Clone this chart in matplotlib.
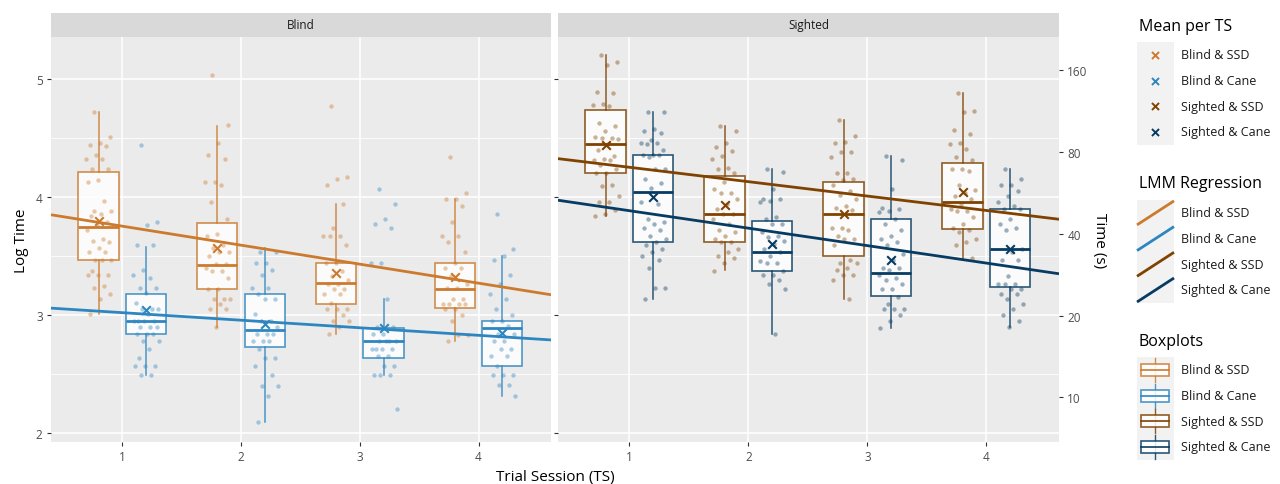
import numpy as np
import matplotlib.pyplot as plt
from matplotlib.patches import Rectangle

plt.rcParams['font.family'] = ['Open Sans', 'DejaVu Sans']

# ---- data (log time per trial session) ----
ts = [1, 2, 3, 4]
groups = ["Blind & SSD", "Blind & Cane", "Sighted & SSD", "Sighted & Cane"]
colors = ["#CC7A2E", "#2E86C1", "#7F4200", "#073B61"]

blind_ssd_q1 = [3.47, 3.22, 3.09, 3.06]
blind_ssd_med = [3.75, 3.42, 3.27, 3.22]
blind_ssd_q3 = [4.21, 3.78, 3.44, 3.44]
blind_ssd_lo = [3.01, 2.90, 2.84, 2.78]
blind_ssd_hi = [4.72, 4.60, 3.94, 3.98]
blind_ssd_mean = [3.80, 3.57, 3.36, 3.32]

blind_cane_q1 = [2.84, 2.73, 2.64, 2.57]
blind_cane_med = [2.95, 2.87, 2.78, 2.89]
blind_cane_q3 = [3.18, 3.18, 2.89, 2.95]
blind_cane_lo = [2.49, 2.09, 2.49, 2.31]
blind_cane_hi = [3.58, 3.57, 3.14, 3.50]
blind_cane_mean = [3.04, 2.92, 2.89, 2.85]

sighted_ssd_q1 = [4.20, 3.62, 3.50, 3.73]
sighted_ssd_med = [4.45, 3.86, 3.86, 3.96]
sighted_ssd_q3 = [4.74, 4.18, 4.13, 4.29]
sighted_ssd_lo = [3.84, 3.38, 3.14, 3.47]
sighted_ssd_hi = [5.20, 4.60, 4.65, 4.88]
sighted_ssd_mean = [4.44, 3.93, 3.86, 4.04]

sighted_cane_q1 = [3.62, 3.37, 3.16, 3.24]
sighted_cane_med = [4.04, 3.53, 3.36, 3.56]
sighted_cane_q3 = [4.36, 3.80, 3.81, 3.90]
sighted_cane_lo = [3.14, 2.84, 2.89, 2.90]
sighted_cane_hi = [4.72, 4.24, 4.35, 4.24]
sighted_cane_mean = [4.00, 3.60, 3.47, 3.56]

# LMM regression (intercept, slope) on log time
blind_ssd_fit = (3.914, -0.161)
blind_cane_fit = (3.084, -0.064)
sighted_ssd_fit = (4.374, -0.122)
sighted_cane_fit = (4.032, -0.148)

blind_ssd_pts = [
    [4.72, 4.51, 4.46, 4.44, 4.43, 4.36, 4.32, 4.32, 4.24, 4.24, 4.14, 4.13, 3.97, 3.88, 3.88, 3.86, 3.84, 3.79, 3.76,
     3.72, 3.64, 3.63, 3.62, 3.57, 3.53, 3.53, 3.47, 3.47, 3.47, 3.37, 3.34, 3.34, 3.34, 3.25, 3.23, 3.18, 3.14, 3.01],
    [5.03, 4.61, 4.46, 4.36, 4.32, 4.13, 4.13, 4.10, 3.96, 3.81, 3.69, 3.67, 3.59, 3.57, 3.53, 3.53, 3.50, 3.43, 3.43,
     3.40, 3.37, 3.37, 3.31, 3.22, 3.22, 3.14, 3.14, 3.14, 3.09, 3.05, 3.05, 2.90],
    [4.77, 4.17, 4.15, 4.10, 3.94, 3.74, 3.67, 3.67, 3.67, 3.59, 3.44, 3.44, 3.37, 3.33, 3.30, 3.26, 3.26, 3.22, 3.22,
     3.18, 3.18, 3.10, 3.05, 3.05, 3.05, 3.00, 2.95, 2.95, 2.90, 2.84],
    [4.34, 4.03, 3.98, 3.98, 3.92, 3.79, 3.67, 3.67, 3.62, 3.53, 3.44, 3.40, 3.40, 3.33, 3.26, 3.23, 3.23, 3.14, 3.14,
     3.09, 3.09, 3.09, 3.09, 3.05, 3.05, 3.00, 2.95, 2.83, 2.83, 2.78],
]
blind_cane_pts = [
    [4.44, 3.79, 3.76, 3.59, 3.59, 3.38, 3.34, 3.31, 3.23, 3.23, 3.19, 3.10, 3.05, 3.05, 3.05, 3.01, 2.95, 2.95, 2.95,
     2.95, 2.90, 2.90, 2.90, 2.84, 2.84, 2.84, 2.78, 2.78, 2.71, 2.64, 2.57, 2.57, 2.57, 2.49, 2.49],
    [3.53, 3.53, 3.44, 3.44, 3.38, 3.34, 3.23, 3.23, 3.18, 3.14, 3.14, 3.01, 2.95, 2.95, 2.90, 2.84, 2.84, 2.84, 2.78,
     2.78, 2.78, 2.71, 2.64, 2.64, 2.57, 2.49, 2.40, 2.40, 2.31, 2.09],
    [4.07, 3.94, 3.81, 3.77, 3.74, 3.44, 3.44, 3.14, 2.90, 2.90, 2.84, 2.84, 2.78, 2.78, 2.78, 2.78, 2.71, 2.71, 2.71,
     2.71, 2.65, 2.65, 2.57, 2.57, 2.49, 2.49, 2.49, 2.20],
    [3.86, 3.56, 3.50, 3.47, 3.34, 3.26, 3.18, 3.14, 3.05, 3.00, 2.95, 2.95, 2.91, 2.84, 2.84, 2.78, 2.78, 2.71, 2.71,
     2.65, 2.65, 2.57, 2.49, 2.49, 2.49, 2.41, 2.41, 2.31],
]
sighted_ssd_pts = [
    [5.20, 5.14, 5.12, 4.89, 4.88, 4.79, 4.78, 4.77, 4.63, 4.60, 4.56, 4.51, 4.50, 4.50, 4.49, 4.45, 4.40, 4.35, 4.32,
     4.31, 4.31, 4.27, 4.24, 4.20, 4.20, 4.10, 4.09, 4.01, 3.96, 3.96, 3.89, 3.86, 3.84],
    [4.60, 4.56, 4.46, 4.42, 4.39, 4.35, 4.32, 4.25, 4.24, 4.20, 4.13, 4.07, 4.03, 4.03, 3.98, 3.94, 3.90, 3.86, 3.86,
     3.81, 3.77, 3.72, 3.70, 3.67, 3.64, 3.62, 3.62, 3.56, 3.53, 3.50, 3.48, 3.44, 3.37],
    [4.65, 4.52, 4.47, 4.46, 4.38, 4.38, 4.34, 4.20, 4.20, 4.15, 4.14, 4.10, 4.05, 4.02, 3.98, 3.92, 3.91, 3.89, 3.74,
     3.74, 3.72, 3.67, 3.64, 3.64, 3.59, 3.47, 3.44, 3.44, 3.40, 3.38, 3.34, 3.34, 3.30, 3.14],
    [4.88, 4.73, 4.72, 4.57, 4.53, 4.46, 4.45, 4.41, 4.34, 4.31, 4.24, 4.24, 4.22, 4.10, 4.06, 4.03, 4.01, 3.98, 3.94,
     3.90, 3.88, 3.88, 3.83, 3.77, 3.74, 3.72, 3.70, 3.64, 3.62, 3.59, 3.48],
]
sighted_cane_pts = [
    [4.72, 4.72, 4.58, 4.56, 4.54, 4.48, 4.46, 4.46, 4.45, 4.40, 4.36, 4.36, 4.36, 4.34, 4.24, 4.24, 4.15, 4.12, 4.08,
     3.96, 3.94, 3.81, 3.79, 3.77, 3.74, 3.72, 3.67, 3.64, 3.62, 3.59, 3.56, 3.53, 3.50, 3.47, 3.40, 3.23, 3.23, 3.14],
    [4.24, 4.21, 4.07, 3.98, 3.98, 3.97, 3.96, 3.83, 3.81, 3.77, 3.77, 3.70, 3.67, 3.66, 3.63, 3.60, 3.56, 3.53, 3.50,
     3.46, 3.44, 3.44, 3.37, 3.34, 3.34, 3.30, 3.26, 3.22, 2.84],
    [4.35, 4.31, 4.07, 3.91, 3.90, 3.88, 3.87, 3.81, 3.77, 3.72, 3.67, 3.64, 3.62, 3.59, 3.52, 3.47, 3.40, 3.40, 3.38,
     3.34, 3.31, 3.30, 3.26, 3.22, 3.22, 3.15, 3.09, 3.05, 3.05, 3.05, 3.00, 2.95, 2.89],
    [4.24, 4.15, 4.10, 4.10, 4.05, 4.01, 3.96, 3.92, 3.90, 3.90, 3.81, 3.77, 3.74, 3.72, 3.56, 3.53, 3.47, 3.47, 3.33,
     3.26, 3.26, 3.26, 3.22, 3.22, 3.18, 3.18, 3.14, 3.09, 3.05, 3.00, 2.95, 2.90],
]

time_ticks = [10, 20, 40, 80, 160]

# ---- figure ----
W, H = 1280, 485
fig = plt.figure(figsize=(W / 100, H / 100), dpi=100)

def px_axes(x0, y0, x1, y1):
    return fig.add_axes([x0 / W, 1 - y1 / H, (x1 - x0) / W, (y1 - y0) / H])

XLIM = (0.4, 4.61)
YLIM = (1.924, 5.356)
TXT = "#4d4d4d"


def style_panel(ax):
    ax.set_facecolor("#ebebeb")
    for s in ax.spines.values():
        s.set_visible(False)
    ax.set_xlim(*XLIM)
    ax.set_ylim(*YLIM)
    ax.set_xticks(ts)
    ax.set_yticks([2, 3, 4, 5])
    ax.set_yticks([2.5, 3.5, 4.5], minor=True)
    ax.grid(which="major", color="white", lw=1.1)
    ax.grid(which="minor", axis="y", color="white", lw=0.6)
    ax.set_axisbelow(True)
    ax.tick_params(which="major", length=3, color="#333333", labelcolor=TXT, labelsize=8.5, pad=3)
    ax.tick_params(which="minor", length=0)


def strip(x0, x1, label):
    sa = px_axes(x0, 14, x1, 38)
    sa.set_facecolor("#d9d9d9")
    sa.set_xticks([])
    sa.set_yticks([])
    for s in sa.spines.values():
        s.set_visible(False)
    sa.text(0.5, 0.5, label, ha="center", va="center", fontsize=8.5, color="#1a1a1a", transform=sa.transAxes)


def draw_group(ax, offset, q1, med, q3, lo, hi, mean, pts, fit, color):
    stats = [dict(q1=a, med=m, q3=b, whislo=l, whishi=h, fliers=[])
             for a, m, b, l, h in zip(q1, med, q3, lo, hi)]
    pos = [t + offset for t in ts]
    ax.bxp(stats, positions=pos, widths=0.34, patch_artist=True, showcaps=False, manage_ticks=False,
           boxprops=dict(facecolor="white", edgecolor=color, lw=1.2, alpha=0.85),
           whiskerprops=dict(color=color, lw=1.1, alpha=0.85),
           medianprops=dict(color=color, lw=2.0), zorder=2)
    for p, vals in zip(pos, pts):
        k = np.arange(len(vals))
        jit = ((k * 0.618034 + 0.31) % 1 - 0.5) * 0.22
        ax.scatter(p + jit, vals, s=10, color=color, alpha=0.4, lw=0, zorder=3)
    xs = np.array(XLIM)
    ax.plot(xs, fit[0] + fit[1] * xs, color=color, lw=2.0, zorder=4, solid_capstyle="butt")
    ax.scatter(pos, mean, marker="x", s=38, color=color, lw=1.5, zorder=5)


ax_b = px_axes(51, 38, 551, 443)
ax_s = px_axes(558, 38, 1059, 443)
style_panel(ax_b)
style_panel(ax_s)
ax_s.tick_params(axis="y", which="both", left=False, labelleft=False)
strip(51, 551, "Blind")
strip(558, 1059, "Sighted")

draw_group(ax_b, -0.2, blind_ssd_q1, blind_ssd_med, blind_ssd_q3, blind_ssd_lo, blind_ssd_hi, blind_ssd_mean,
           blind_ssd_pts, blind_ssd_fit, colors[0])
draw_group(ax_b, 0.2, blind_cane_q1, blind_cane_med, blind_cane_q3, blind_cane_lo, blind_cane_hi, blind_cane_mean,
           blind_cane_pts, blind_cane_fit, colors[1])
draw_group(ax_s, -0.2, sighted_ssd_q1, sighted_ssd_med, sighted_ssd_q3, sighted_ssd_lo, sighted_ssd_hi,
           sighted_ssd_mean, sighted_ssd_pts, sighted_ssd_fit, colors[2])
draw_group(ax_s, 0.2, sighted_cane_q1, sighted_cane_med, sighted_cane_q3, sighted_cane_lo, sighted_cane_hi,
           sighted_cane_mean, sighted_cane_pts, sighted_cane_fit, colors[3])

# secondary axis in seconds
ax_t = ax_s.twinx()
ax_t.set_ylim(*YLIM)
ax_t.set_yticks(np.log(time_ticks))
ax_t.set_yticklabels([str(t) for t in time_ticks])
for s in ax_t.spines.values():
    s.set_visible(False)
ax_t.tick_params(length=3, color="#333333", labelcolor=TXT, labelsize=8.5, pad=3)
ax_t.set_ylabel("Time (s)", rotation=-90, labelpad=14, fontsize=11)

ax_b.set_ylabel("Log Time", fontsize=11, labelpad=5)
fig.text(555 / W, 1 - 478 / H, "Trial Session (TS)", ha="center", va="center", fontsize=11)

# ---- legends ----
lg = fig.add_axes([1120 / W, 0, 160 / W, 1])
lg.set_xlim(1120, 1280)
lg.set_ylim(H, 0)
lg.axis("off")

def legend_block(title, y_title, y0, kind):
    lg.text(1139, y_title, title, fontsize=11.5, va="center", ha="left", color="black")
    lg.add_patch(Rectangle((1137, y0), 37, 103, facecolor="#f2f2f2", edgecolor="none"))
    for i, (g, c) in enumerate(zip(groups, colors)):
        yc = y0 + 12.9 + i * 25.7
        if kind == "mean":
            lg.scatter([1155], [yc], marker="x", s=26, color=c, lw=1.4)
        elif kind == "line":
            lg.plot([1137, 1174], [yc + 12, yc - 12], color=c, lw=2.0, solid_capstyle="butt")
        else:
            lg.plot([1155, 1155], [yc - 12, yc + 12], color=c, lw=1.0, alpha=0.85)
            lg.add_patch(Rectangle((1141, yc - 6), 28, 12, facecolor="white", edgecolor=c, lw=1.2, alpha=0.85,
                                   zorder=3))
            lg.plot([1141, 1169], [yc, yc], color=c, lw=1.2, zorder=4)
        lg.text(1181, yc, g, fontsize=9, va="center", ha="left", color="#1a1a1a")

legend_block("Mean per TS", 27, 43, "mean")
legend_block("LMM Regression", 184, 201, "line")
legend_block("Boxplots", 342, 358, "box")

fig.savefig("out.png", dpi=100)
